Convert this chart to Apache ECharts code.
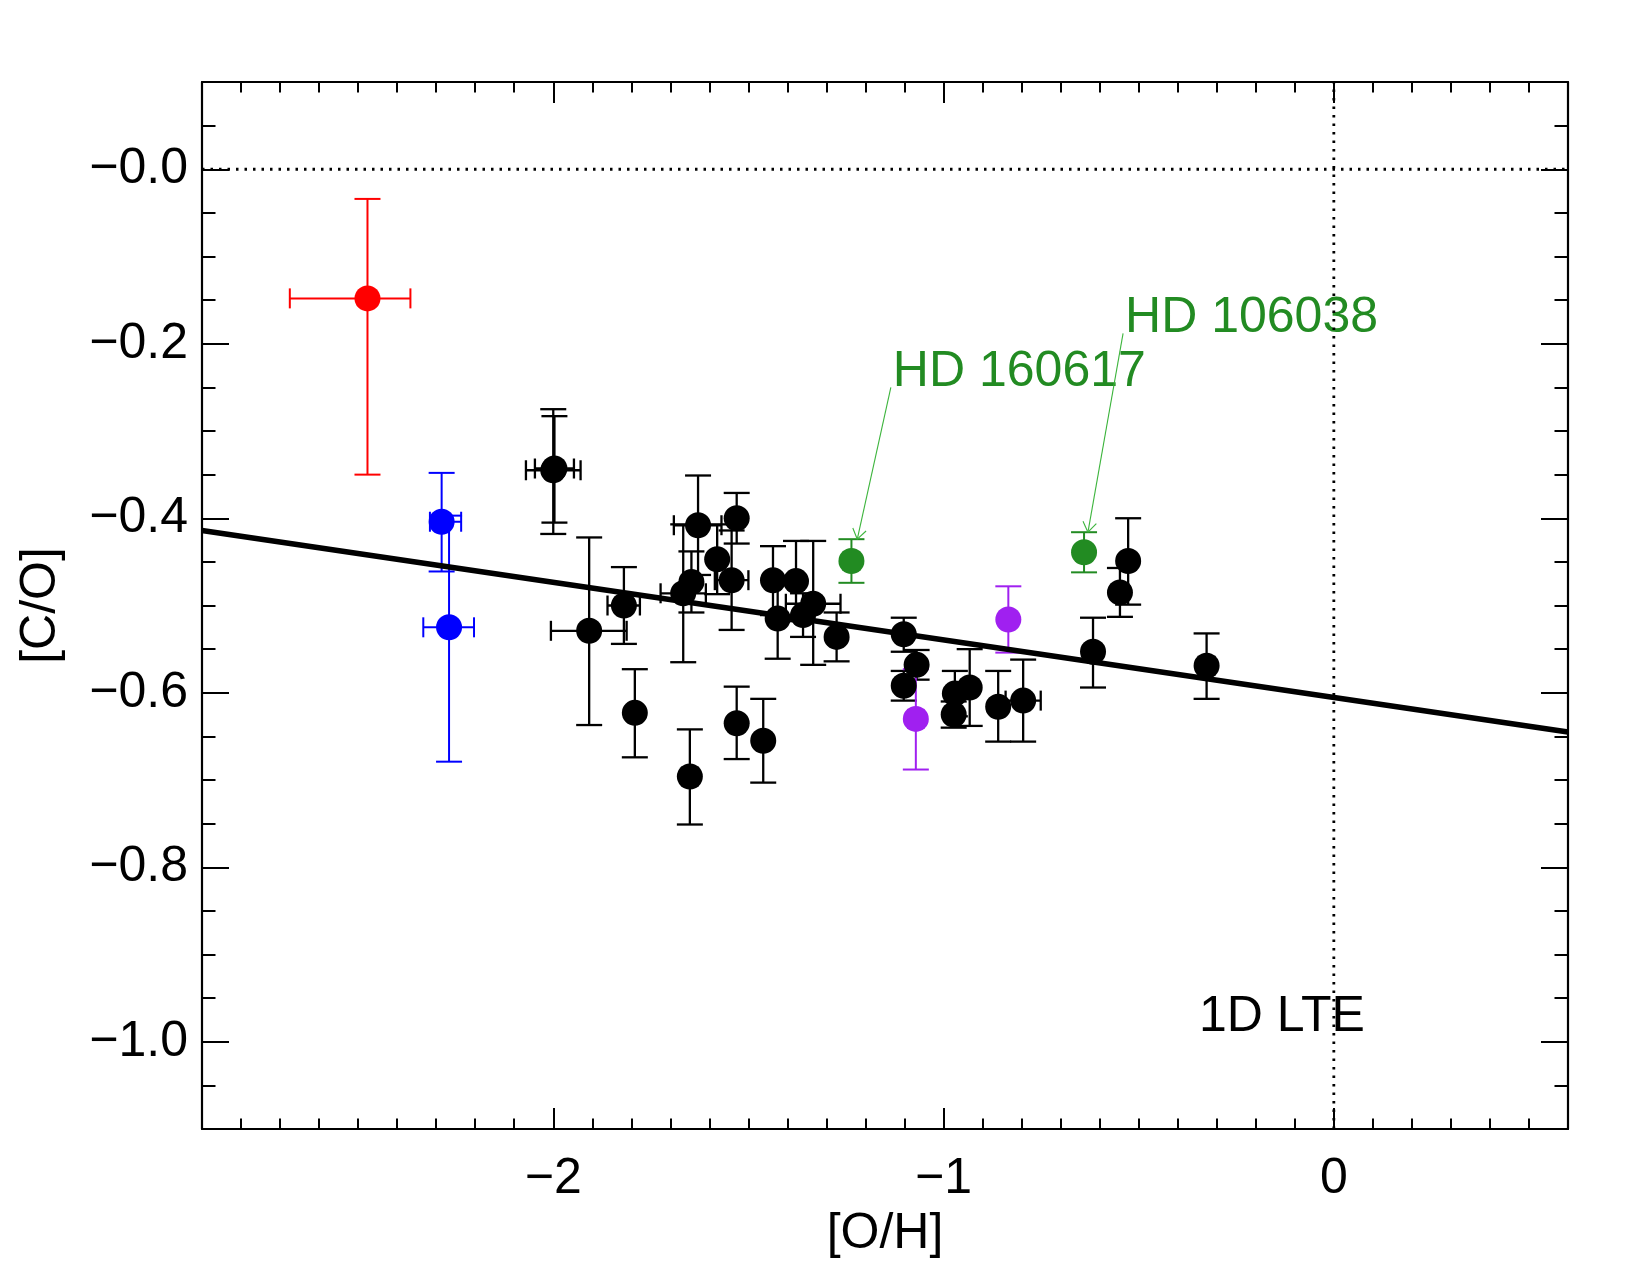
<!DOCTYPE html>
<html>
<head>
<meta charset="utf-8">
<script src="https://cdn.jsdelivr.net/npm/echarts@6/dist/echarts.min.js"></script>
<style>
  html, body { margin: 0; padding: 0; background: #fff; }
  #chart { width: 1650px; height: 1275px; }
</style>
</head>
<body>
<div id="chart"></div>
<script>
// rows: [ [O/H], [C/O], xErrMinus, xErrPlus, yErrMinus, yErrPlus ]
const blackPts = [
  [-2.000, -0.345, 0.070, 0.070, 0.073, 0.070],
  [-1.997, -0.343, 0.050, 0.050, 0.062, 0.060],
  [-1.908, -0.529, 0.098, 0.096, 0.108, 0.107],
  [-1.819, -0.500, 0.042, 0.041, 0.044, 0.044],
  [-1.791, -0.623, 0, 0, 0.051, 0.050],
  [-1.667, -0.486, 0.058, 0.058, 0.079, 0.079],
  [-1.646, -0.473, 0, 0, 0.035, 0.035],
  [-1.629, -0.408, 0.062, 0.060, 0.057, 0.057],
  [-1.650, -0.696, 0.020, 0.020, 0.055, 0.054],
  [-1.580, -0.447, 0, 0, 0.040, 0.040],
  [-1.543, -0.471, 0.043, 0.043, 0.057, 0.057],
  [-1.530, -0.400, 0, 0, 0.029, 0.029],
  [-1.530, -0.635, 0, 0, 0.041, 0.042],
  [-1.462, -0.655, 0, 0, 0.048, 0.048],
  [-1.437, -0.471, 0, 0, 0.040, 0.039],
  [-1.425, -0.515, 0, 0, 0.046, 0.046],
  [-1.378, -0.472, 0, 0, 0.046, 0.046],
  [-1.360, -0.511, 0, 0, 0.025, 0.025],
  [-1.334, -0.498, 0.070, 0.070, 0.070, 0.072],
  [-1.274, -0.536, 0, 0, 0.028, 0.028],
  [-1.102, -0.533, 0, 0, 0.020, 0.019],
  [-1.069, -0.568, 0, 0, 0.017, 0.017],
  [-1.102, -0.592, 0, 0, 0.017, 0.017],
  [-0.971, -0.601, 0, 0, 0.026, 0.026],
  [-0.974, -0.625, 0, 0, 0.015, 0.015],
  [-0.933, -0.594, 0, 0, 0.044, 0.044],
  [-0.860, -0.616, 0, 0, 0.040, 0.041],
  [-0.796, -0.609, 0.045, 0.045, 0.047, 0.047],
  [-0.617, -0.553, 0, 0, 0.041, 0.039],
  [-0.548, -0.485, 0, 0, 0.028, 0.028],
  [-0.527, -0.449, 0, 0, 0.050, 0.049],
  [-0.326, -0.569, 0.020, 0.020, 0.038, 0.037]
];
const redPts = [
  [-2.476, -0.148, 0.199, 0.110, 0.202, 0.114]
];
const bluePts = [
  [-2.286, -0.404, 0.030, 0.050, 0.057, 0.056],
  [-2.267, -0.525, 0.066, 0.064, 0.154, 0.128]
];
const purplePts = [
  [-0.834, -0.516, 0, 0, 0.038, 0.038],
  [-1.071, -0.630, 0.020, 0.020, 0.058, 0.057]
];
const greenPts = [
  [-1.236, -0.449, 0.020, 0.020, 0.025, 0.025],
  [-0.640, -0.439, 0, 0, 0.023, 0.023]
];

// fitted trend
const fitX = [-2.9, 0.6];
const fitY = [-0.414, -0.645];

// labelled stars: text, where the arrow starts (at the text), where it points
const annoText = ['HD 160617', 'HD 106038'];
const annoStart = [[-1.135, -0.250], [-0.540, -0.188]];
const annoTip = [[-1.221, -0.424], [-0.630, -0.416]];

// axes
const xRange = [-2.9, 0.6];
const yRange = [-1.1, 0.1];
const xTickVals = [-2, -1, 0];
const xTickLabels = ['\u22122', '\u22121', '0'];
const yTickVals = [-1.0, -0.8, -0.6, -0.4, -0.2, 0.0];
const yTickLabels = ['\u22121.0', '\u22120.8', '\u22120.6', '\u22120.4', '\u22120.2', '\u22120.0'];

const FONT = "'Liberation Sans', Arial, Helvetica, sans-serif";
const FS = 50;
const CAP_W = 13, CAP_H = 10;

function lookupLabel(vals, labels) {
  return function (v) {
    for (let i = 0; i < vals.length; i++) {
      if (Math.abs(vals[i] - v) < 1e-6) return labels[i];
    }
    return '';
  };
}

function xAxisDef(pos, major) {
  return {
    type: 'value', gridIndex: 0, position: pos,
    min: xRange[0], max: xRange[1],
    interval: major ? undefined : 0.1,
    axisLine: {show: major, onZero: false, lineStyle: {color: '#000', width: 2.2}},
    axisTick: {show: true, inside: true, length: major ? 21 : 10.5,
      customValues: major ? xTickVals : undefined,
      lineStyle: {color: '#000', width: 2}},
    axisLabel: (major && pos === 'bottom') ? {
      show: true, customValues: xTickVals, formatter: lookupLabel(xTickVals, xTickLabels),
      fontSize: FS, fontFamily: FONT, color: '#000', margin: 25
    } : {show: false},
    splitLine: {show: false},
    name: (major && pos === 'bottom') ? '[O/H]' : '',
    nameLocation: 'middle', nameGap: 75,
    nameTextStyle: {fontSize: FS, fontFamily: FONT, color: '#000'}
  };
}

function yAxisDef(pos, major) {
  return {
    type: 'value', gridIndex: 0, position: pos,
    min: yRange[0], max: yRange[1],
    interval: major ? undefined : 0.05,
    axisLine: {show: major, onZero: false, lineStyle: {color: '#000', width: 2.2}},
    axisTick: {show: true, inside: true, length: major ? 27 : 13.5,
      customValues: major ? yTickVals : undefined,
      lineStyle: {color: '#000', width: 2}},
    axisLabel: (major && pos === 'left') ? {
      show: true, customValues: yTickVals, formatter: lookupLabel(yTickVals, yTickLabels),
      fontSize: FS, fontFamily: FONT, color: '#000', margin: 14
    } : {show: false},
    splitLine: {show: false},
    name: (major && pos === 'left') ? '[C/O]' : '',
    nameLocation: 'middle', nameGap: 136, nameRotate: 90,
    nameTextStyle: {fontSize: FS, fontFamily: FONT, color: '#000'}
  };
}

function errorSeries(rows, color, width) {
  return {
    type: 'custom', data: rows, xAxisIndex: 0, yAxisIndex: 0,
    encode: {x: 0, y: 1}, silent: true,
    renderItem: function (params, api) {
      const x = api.value(0), y = api.value(1);
      const dxm = api.value(2), dxp = api.value(3), dym = api.value(4), dyp = api.value(5);
      const kids = [];
      const st = {stroke: color, lineWidth: width};
      const seg = (a, b) => kids.push({type: 'line', shape: {x1: a[0], y1: a[1], x2: b[0], y2: b[1]}, style: st});
      if (dym || dyp) {
        const t = api.coord([x, y + dyp]), b = api.coord([x, y - dym]);
        seg(t, b);
        seg([t[0] - CAP_W, t[1]], [t[0] + CAP_W, t[1]]);
        seg([b[0] - CAP_W, b[1]], [b[0] + CAP_W, b[1]]);
      }
      if (dxm || dxp) {
        const l = api.coord([x - dxm, y]), r = api.coord([x + dxp, y]);
        seg(l, r);
        seg([l[0], l[1] - CAP_H], [l[0], l[1] + CAP_H]);
        seg([r[0], r[1] - CAP_H], [r[0], r[1] + CAP_H]);
      }
      return {type: 'group', children: kids};
    }
  };
}

function pointSeries(rows, color) {
  return {
    type: 'scatter', data: rows.map(r => [r[0], r[1]]), xAxisIndex: 0, yAxisIndex: 0,
    symbol: 'circle', symbolSize: 26, silent: true,
    itemStyle: {color: color, opacity: 1}
  };
}

const chart = echarts.init(document.getElementById('chart'), null, {renderer: 'canvas'});

chart.setOption({
  animation: false,
  backgroundColor: '#fff',
  grid: {left: 202, top: 82, width: 1366, height: 1047, containLabel: false, outerBoundsMode: 'none'},
  xAxis: [xAxisDef('bottom', true), xAxisDef('bottom', false), xAxisDef('top', true), xAxisDef('top', false)],
  yAxis: [yAxisDef('left', true), yAxisDef('left', false), yAxisDef('right', true), yAxisDef('right', false)],
  graphic: [{
    type: 'text', left: 1199, top: 992, silent: true,
    style: {text: '1D LTE', font: FS + 'px ' + FONT, fill: '#000'}
  }],
  series: [
    // dotted zero lines
    {type: 'line', data: [[xRange[0], 0], [xRange[1], 0]], symbol: 'none', silent: true,
      lineStyle: {color: '#000', width: 2.8, type: [2.5, 6]}},
    {type: 'line', data: [[0, yRange[0]], [0, yRange[1]]], symbol: 'none', silent: true,
      lineStyle: {color: '#000', width: 2.8, type: [2.5, 6]}},
    errorSeries(blackPts, '#000', 2.3),
    pointSeries(blackPts, '#000'),
    errorSeries(redPts, '#ff0000', 2),
    pointSeries(redPts, '#ff0000'),
    errorSeries(bluePts, '#0000ff', 2),
    pointSeries(bluePts, '#0000ff'),
    {type: 'line', data: fitX.map((x, i) => [x, fitY[i]]), symbol: 'none', silent: true,
      lineStyle: {color: '#000', width: 5.5}},
    errorSeries(purplePts, '#a020f0', 2),
    pointSeries(purplePts, '#a020f0'),
    errorSeries(greenPts, '#228b22', 2),
    pointSeries(greenPts, '#228b22'),
    // star labels with arrows
    {
      type: 'custom', silent: true, xAxisIndex: 0, yAxisIndex: 0,
      data: annoStart.map((s, i) => [s[0], s[1], annoTip[i][0], annoTip[i][1]]),
      encode: {x: 0, y: 1},
      renderItem: function (params, api) {
        const s = api.coord([api.value(0), api.value(1)]);
        const t = api.coord([api.value(2), api.value(3)]);
        const ang = Math.atan2(s[1] - t[1], s[0] - t[0]);
        const hl = 12, ha = 0.6;
        const h1 = [t[0] + hl * Math.cos(ang + ha), t[1] + hl * Math.sin(ang + ha)];
        const h2 = [t[0] + hl * Math.cos(ang - ha), t[1] + hl * Math.sin(ang - ha)];
        const st = {stroke: '#3cb43c', lineWidth: 1.1};
        return {
          type: 'group',
          children: [
            {type: 'line', shape: {x1: s[0], y1: s[1], x2: t[0], y2: t[1]}, style: st},
            {type: 'line', shape: {x1: t[0], y1: t[1], x2: h1[0], y2: h1[1]}, style: st},
            {type: 'line', shape: {x1: t[0], y1: t[1], x2: h2[0], y2: h2[1]}, style: st},
            {type: 'text', x: s[0] + 2, y: s[1] - 15,
              style: {text: annoText[params.dataIndex], font: FS + 'px ' + FONT, fill: '#228b22',
                align: 'left', verticalAlign: 'middle'}}
          ]
        };
      }
    }
  ]
});
</script>
</body>
</html>
